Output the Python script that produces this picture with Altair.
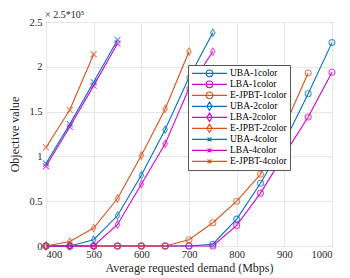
import altair as alt
import pandas as pd

demand = [400, 450, 500, 550, 600, 650, 700, 750, 800, 850, 900, 950, 1000]

uba_1 = [0, 0, 0, 0, 0, 0, 0, 0.02, 0.30, 0.70, 1.16, 1.70, 2.27]
lba_1 = [0, 0, 0, 0, 0, 0, 0, 0, 0.23, 0.59, 1.02, 1.44, 1.94]
ejp_1 = [0, 0, 0, 0, 0, 0, 0.07, 0.26, 0.50, 0.80, 1.33, 1.93, None]
uba_2 = [0, 0, 0.07, 0.34, 0.79, 1.30, 1.88, 2.38, None, None, None, None, None]
lba_2 = [0, 0, 0, 0.24, 0.69, 1.14, 1.76, 2.17, None, None, None, None, None]
ejp_2 = [0, 0.05, 0.20, 0.53, 1.01, 1.53, 2.17, None, None, None, None, None, None]
uba_4 = [0.92, 1.36, 1.83, 2.30, None, None, None, None, None, None, None, None, None]
lba_4 = [0.89, 1.33, 1.79, 2.26, None, None, None, None, None, None, None, None, None]
ejp_4 = [1.10, 1.52, 2.14, None, None, None, None, None, None, None, None, None, None]

names = ["UBA-1color", "LBA-1color", "E-JPBT-1color",
         "UBA-2color", "LBA-2color", "E-JPBT-2color",
         "UBA-4color", "LBA-4color", "E-JPBT-4color"]
series = [uba_1, lba_1, ejp_1, uba_2, lba_2, ejp_2, uba_4, lba_4, ejp_4]

BLUE, MAG, ORA = "#0072BD", "#D800D8", "#D95319"
colors = [BLUE, MAG, ORA] * 3

circle = "M-1,0A1,1 0 1,1 1,0A1,1 0 1,1 -1,0Z"
diamond = "M0,-1.2L0.75,0L0,1.2L-0.75,0Z"
xmark = "M-1,-1L1,1M1,-1L-1,1"
marker_shapes = [circle] * 3 + [diamond] * 3 + [xmark] * 3

lc = "M-1,0L1,0M-0.19,0A0.19,0.19 0 1,1 0.19,0A0.19,0.19 0 1,1 -0.19,0"
ld = "M-1,0L1,0M0,-0.24L0.15,0L0,0.24L-0.15,0Z"
lx = "M-1,0L1,0M-0.11,-0.11L0.11,0.11M0.11,-0.11L-0.11,0.11"
legend_shapes = [lc] * 3 + [ld] * 3 + [lx] * 3

rows = []
for n, s in zip(names, series):
    for d, v in zip(demand, s):
        if v is not None:
            rows.append({"demand": d, "value": v, "series": n})
df = pd.DataFrame(rows)

FONT = "Liberation Serif, Times New Roman, DejaVu Serif, serif"
TXT = "#262626"

axis_style = dict(labelFont=FONT, titleFont=FONT, labelFontSize=10.5, titleFontSize=12,
                  titleFontWeight="normal", labelColor=TXT, titleColor=TXT,
                  gridColor="#e6e6e6", gridWidth=1, domain=False, ticks=False)

x = alt.X("demand:Q", scale=alt.Scale(domain=[400, 1000], nice=False),
          axis=alt.Axis(values=[400, 500, 600, 700, 800, 900, 1000], format="d",
                        title="Average requested demand (Mbps)",
                        labelPadding=3, titlePadding=3, **axis_style))
y = alt.Y("value:Q", scale=alt.Scale(domain=[0, 2.5], nice=False),
          axis=alt.Axis(values=[0, 0.5, 1, 1.5, 2, 2.5], title="Objective value",
                        labelPadding=4, titlePadding=7, format="~g", **axis_style))
col = alt.Color("series:N", scale=alt.Scale(domain=names, range=colors), legend=None)

lines = alt.Chart(df).mark_line(strokeWidth=1.1).encode(x=x, y=y, color=col, detail="series:N")
points = alt.Chart(df).mark_point(filled=False, strokeWidth=1.1, size=36).encode(
    x=x, y=y, color=col,
    shape=alt.Shape("series:N", scale=alt.Scale(domain=names, range=marker_shapes), legend=None))

leg_opts = dict(title=None, orient="none", legendX=142, legendY=43,
                clipHeight=10.7, labelFont=FONT, labelFontSize=9.5, labelColor="#000000",
                labelOffset=2, symbolOpacity=1, symbolStrokeWidth=1.1, symbolSize=1225,
                fillColor="white", strokeColor="#555555", padding=3,
                rowPadding=0, labelLimit=200)

leg = alt.Chart(df).transform_filter("false").mark_point(filled=False, strokeWidth=1.1, size=1225).encode(
    x=x, y=y,
    stroke=alt.Stroke("series:N", scale=alt.Scale(domain=names, range=colors),
                      legend=alt.Legend(**leg_opts)),
    shape=alt.Shape("series:N", scale=alt.Scale(domain=names, range=legend_shapes),
                    legend=alt.Legend(**leg_opts)))

chart = alt.layer(lines, points, leg).resolve_scale(
    shape="independent", stroke="independent", color="independent"
).properties(
    width=286, height=224,
    autosize=alt.AutoSizeParams(type="none"),
    padding={"left": 38, "top": 14, "right": 10, "bottom": 30},
    title=alt.Title("× 2.5*10⁵", anchor="start", frame="group", font=FONT, fontSize=10,
                    fontWeight="normal", color=TXT, offset=0, dy=3, dx=-1),
).configure(font=FONT).configure_view(stroke=TXT, strokeWidth=1).configure_axis(**axis_style)

chart.save("out.html", embed_options={"renderer": "svg", "actions": False})
